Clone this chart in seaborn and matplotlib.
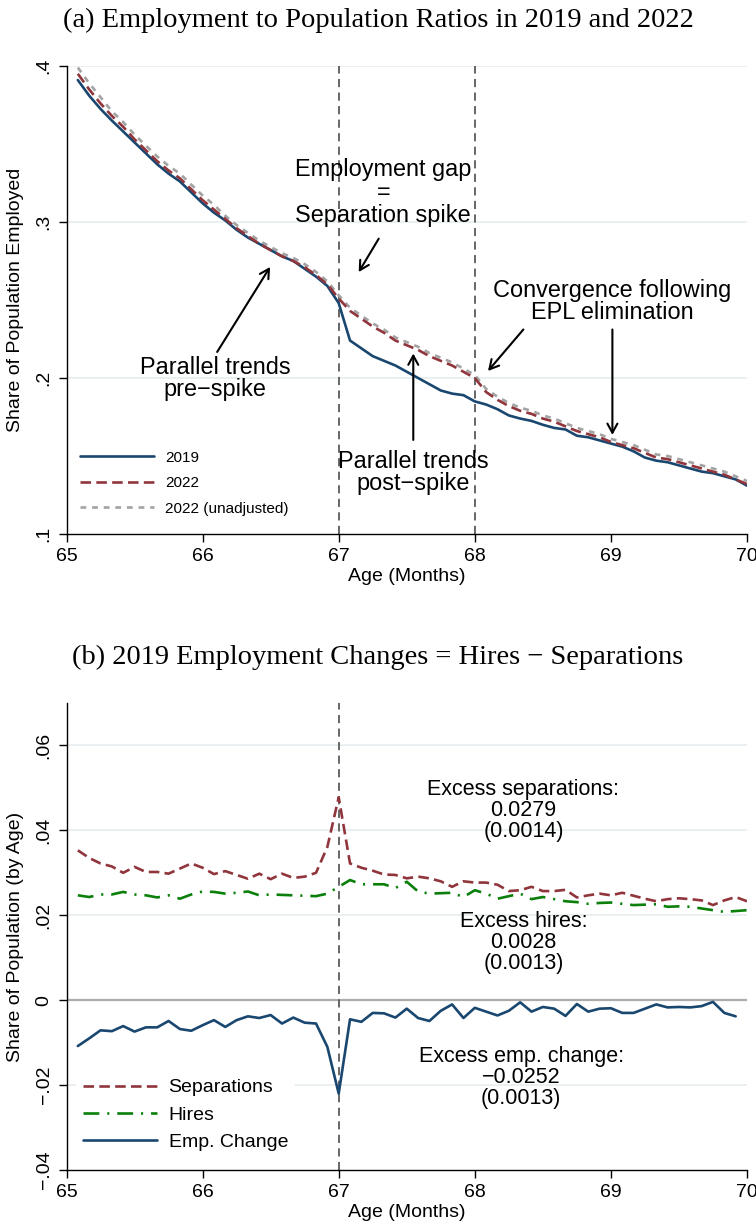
import numpy as np
import pandas as pd
import matplotlib
matplotlib.use("Agg")
import matplotlib.pyplot as plt
import seaborn as sns

# ---- Panel (a): employment-to-population ratios by age in months ----
months_a = np.arange(1, 61)
emp_2019 = [.391, .381, .3725, .365, .358, .351, .344, .337, .331, .326,
            .319, .312, .306, .301, .295, .290, .286, .282, .278, .275,
            .270, .265, .259, .248, .224, .219, .214, .211, .208, .204,
            .200, .196, .192, .190, .189, .185, .183, .180, .176, .174,
            .1725, .170, .168, .167, .163, .162, .160, .158, .156, .153,
            .149, .147, .146, .144, .142, .140, .139, .137, .135, .131]
emp_2022 = [.395, .385, .376, .368, .361, .353, .346, .339, .333, .328,
            .321, .314, .308, .302, .296, .291, .286, .282, .278, .275,
            .271, .266, .260, .251, .243, .238, .233, .229, .224, .221,
            .218, .214, .211, .208, .204, .200, .191, .186, .182, .179,
            .177, .174, .172, .169, .166, .164, .162, .159, .157, .155,
            .152, .149, .148, .146, .144, .142, .140, .138, .135, .132]
emp_2022_unadj = [.399, .389, .380, .371, .364, .356, .349, .342, .336, .331,
                  .324, .317, .311, .304, .298, .293, .288, .284, .280, .277,
                  .273, .268, .262, .253, .245, .240, .235, .231, .226, .223,
                  .220, .216, .213, .210, .206, .202, .193, .188, .184, .181,
                  .179, .176, .174, .171, .168, .166, .164, .161, .159, .157,
                  .154, .151, .150, .148, .146, .144, .142, .140, .137, .134]

# ---- Panel (b): 2019 flows by age in months ----
months_b = np.arange(1, 61)
separations = [.0353, .0335, .0322, .0315, .0300, .0314, .0302, .0302, .0298, .0310,
               .0322, .0312, .0297, .0304, .0295, .0286, .0298, .0285, .0298, .0288,
               .0291, .0300, .0361, .0478, .0322, .0312, .0305, .0296, .0295, .0287,
               .0291, .0287, .0280, .0267, .0280, .0277, .0277, .0272, .0257, .0259,
               .0267, .0257, .0257, .0260, .0242, .0247, .0251, .0247, .0253, .0246,
               .0239, .0233, .0238, .0240, .0238, .0235, .0224, .0235, .0243, .0233]
hires = [.0247, .0243, .0249, .0249, .0255, .0249, .0247, .0242, .0247, .0239,
         .0249, .0256, .0255, .0251, .0253, .0256, .0247, .0249, .0248, .0247,
         .0246, .0245, .0251, .0267, .0283, .0273, .0273, .0273, .0264, .0279,
         .0256, .0251, .0252, .0253, .0243, .0259, .0251, .0239, .0245, .0251,
         .0238, .0243, .0238, .0233, .0231, .0227, .0229, .0230, .0227, .0224,
         .0225, .0226, .0220, .0221, .0220, .0216, .0212, .0208, .0210, .0212]
months_c = np.arange(1, 60)
emp_change = [-.0108, -.0090, -.0071, -.0073, -.0061, -.0074, -.0064, -.0064, -.0049, -.0068,
              -.0072, -.0059, -.0047, -.0063, -.0047, -.0038, -.0042, -.0035, -.0055, -.0041,
              -.0053, -.0055, -.0110, -.0220, -.0045, -.0051, -.0030, -.0031, -.0041, -.0020,
              -.0042, -.0049, -.0025, -.0010, -.0042, -.0018, -.0027, -.0036, -.0025, -.0005,
              -.0027, -.0016, -.0020, -.0037, -.0009, -.0027, -.0020, -.0019, -.0030, -.0030,
              -.0020, -.0010, -.0017, -.0016, -.0017, -.0014, -.0004, -.0030, -.0038]

xticks = [65, 66, 67, 68, 69, 70]
yticks_a = [.1, .2, .3, .4]
yticklabels_a = [".1", ".2", ".3", ".4"]
yticks_b = [-.04, -.02, 0, .02, .04, .06]
yticklabels_b = ["\u2212.04", "\u2212.02", "0", ".02", ".04", ".06"]

df_a = pd.DataFrame({"age": 65 + months_a / 12, "y2019": emp_2019,
                     "y2022": emp_2022, "y2022u": emp_2022_unadj})
df_b = pd.DataFrame({"age": 65 + months_b / 12, "sep": separations, "hire": hires})
df_c = pd.DataFrame({"age": 65 + months_c / 12, "chg": emp_change})

sns.set_theme(style="ticks")
plt.rcParams["font.family"] = ["Liberation Sans", "DejaVu Sans"]
plt.rcParams["axes.linewidth"] = 1.0
for key in ("text.color", "axes.labelcolor", "xtick.color", "ytick.color", "axes.edgecolor"):
    plt.rcParams[key] = "black"

NAVY = "#1a476f"
MAROON = "#90353b"
GREEN = "#0a800a"
GRAY = "#a3a3a3"
GRID = "#e8eff1"
VLINE = "#5a5a5a"

W, H = 756, 1224
fig = plt.figure(figsize=(W / 100, H / 100), dpi=100)


def axes_px(left, right, top, bottom):
    return fig.add_axes([left / W, 1 - bottom / H, (right - left) / W, (bottom - top) / H])


def style_axes(ax, yticks, ylabels, ylabel):
    for s in ("top", "right"):
        ax.spines[s].set_visible(False)
    ax.set_xticks(xticks)
    ax.set_xticklabels([str(t) for t in xticks])
    ax.set_yticks(yticks)
    ax.set_yticklabels(ylabels, rotation=90, va="center")
    ax.tick_params(axis="both", direction="out", length=6, width=1.0,
                   labelsize=14, colors="black", pad=4)
    ax.set_xlabel("Age (Months)", fontsize=14, labelpad=2, color="black")
    ax.set_ylabel(ylabel, fontsize=14, labelpad=8, color="black")
    ax.set_xlim(65, 70)


top_fs = 16.9
bot_fs = 15.5
arrow_kw = dict(arrowstyle="->,head_length=0.55,head_width=0.3", color="black",
                lw=1.5, shrinkA=0, shrinkB=0)

# ---------------- Panel (a) ----------------
ax1 = axes_px(66.5, 747, 66, 534)
for y in yticks_a[1:]:
    ax1.axhline(y, color=GRID, lw=1.3, zorder=0)
for xv in (67, 68):
    ax1.axvline(xv, color=VLINE, lw=1.3, ls=(0, (4.5, 3)), zorder=1)
sns.lineplot(data=df_a, x="age", y="y2019", ax=ax1, color=NAVY, lw=1.9,
             label="2019", zorder=3)
sns.lineplot(data=df_a, x="age", y="y2022", ax=ax1, color=MAROON, lw=1.9,
             ls=(0, (4, 2)), label="2022", zorder=4)
sns.lineplot(data=df_a, x="age", y="y2022u", ax=ax1, color=GRAY, lw=1.9,
             ls=(0, (2.2, 2.2)), label="2022 (unadjusted)", zorder=2)
ax1.set_ylim(.1, .4)
style_axes(ax1, yticks_a, yticklabels_a, "Share of Population Employed")
ax1.legend(loc="lower left", bbox_to_anchor=(0.0, 0.01), frameon=False,
           fontsize=11, handlelength=4.8, handletextpad=0.75, labelspacing=0.75,
           borderpad=0.4)

ax1.text(67.327, .3192, "Employment gap\n=\nSeparation spike", ha="center", va="center",
         fontsize=top_fs, linespacing=1.0)
ax1.annotate("", xy=(67.147, .2679), xytext=(67.294, .2893), arrowprops=arrow_kw)
ax1.text(69.007, .249, "Convergence following\nEPL elimination", ha="center", va="center",
         fontsize=top_fs, linespacing=0.95)
ax1.annotate("", xy=(68.097, .2045), xytext=(68.357, .2311), arrowprops=arrow_kw)
ax1.annotate("", xy=(69.011, .1635), xytext=(69.011, .2311), arrowprops=arrow_kw)
ax1.text(67.548, .1395, "Parallel trends\npost\u2212spike", ha="center", va="center",
         fontsize=top_fs, linespacing=0.95)
ax1.annotate("", xy=(67.548, .2157), xytext=(67.548, .1603), arrowprops=arrow_kw)
ax1.text(66.092, .1997, "Parallel trends\npre\u2212spike", ha="center", va="center",
         fontsize=top_fs, linespacing=0.95)
ax1.annotate("", xy=(66.496, .2712), xytext=(66.107, .2167), arrowprops=arrow_kw)

# ---------------- Panel (b) ----------------
ax2 = axes_px(66.5, 747, 703, 1170)
for y in (-.02, .02, .04, .06):
    ax2.axhline(y, color=GRID, lw=1.3, zorder=0)
ax2.axhline(0, color="#ababab", lw=1.6, zorder=1)
ax2.axvline(67, color=VLINE, lw=1.3, ls=(0, (4.5, 3)), zorder=1)
sns.lineplot(data=df_b, x="age", y="sep", ax=ax2, color=MAROON, lw=1.9,
             ls=(0, (4, 2)), label="Separations", zorder=3)
sns.lineplot(data=df_b, x="age", y="hire", ax=ax2, color=GREEN, lw=1.9,
             ls=(0, (6, 3, 0.8, 3)), label="Hires", zorder=3)
sns.lineplot(data=df_c, x="age", y="chg", ax=ax2, color=NAVY, lw=1.9,
             label="Emp. Change", zorder=3)
ax2.set_ylim(-.04, .07)
style_axes(ax2, yticks_b, yticklabels_b, "Share of Population (by Age)")
leg2 = ax2.legend(loc="lower left", bbox_to_anchor=(0.0, 0.005), frameon=True,
                  fontsize=14, handlelength=3.8, handletextpad=0.6, labelspacing=0.5,
                  borderpad=0.35, fancybox=False)
leg2.get_frame().set_facecolor("white")
leg2.get_frame().set_edgecolor("none")
leg2.get_frame().set_alpha(1.0)

ax2.text(68.357, .0447, "Excess separations:\n0.0279\n(0.0014)", ha="center", va="center",
         fontsize=bot_fs, linespacing=1.0)
ax2.text(68.357, .01365, "Excess hires:\n0.0028\n(0.0013)", ha="center", va="center",
         fontsize=bot_fs, linespacing=1.0)
ax2.text(68.34, -.0181, "Excess emp. change:\n\u22120.0252\n(0.0013)", ha="center",
         va="center", fontsize=bot_fs, linespacing=1.0)

# ---------------- Panel titles ----------------
title_font = ["Liberation Serif", "DejaVu Serif"]
fig.text(0.5, 1 - 20 / H, "(a) Employment to Population Ratios in 2019 and 2022",
         ha="center", va="center", fontsize=20.5, family=title_font)
fig.text(0.5, 1 - 657 / H, "(b) 2019 Employment Changes = Hires \u2212 Separations",
         ha="center", va="center", fontsize=20.5, family=title_font)

fig.savefig("out.png", dpi=100, facecolor="white")
